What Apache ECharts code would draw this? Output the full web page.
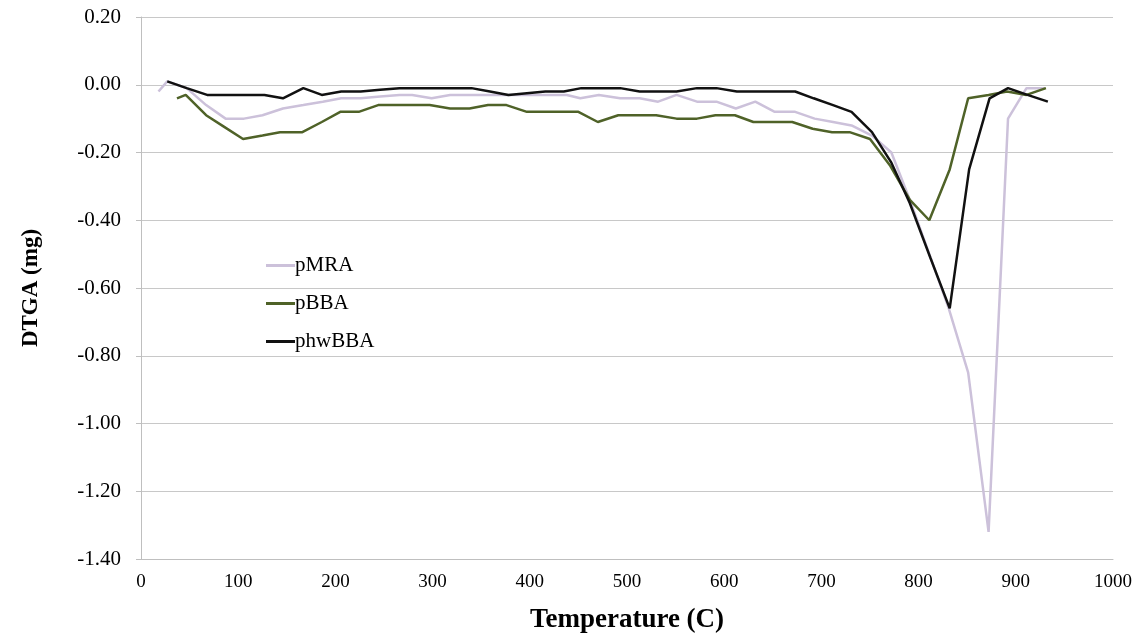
<!DOCTYPE html>
<html>
<head>
<meta charset="utf-8">
<script src="https://cdn.jsdelivr.net/npm/echarts@6/dist/echarts.min.js"></script>
<style>
html,body{margin:0;padding:0;background:#fff;}
#chart{width:1143px;height:637px;}
</style>
</head>
<body>
<div id="chart"></div>
<script>
const yTicks = ['0.20','0.00','-0.20','-0.40','-0.60','-0.80','-1.00','-1.20','-1.40'];
const xTicks = [0,100,200,300,400,500,600,700,800,900,1000];
const seriesNames = ['pMRA','pBBA','phwBBA'];

const pMRA_T = [18,27,47,67,87,106,125,146,167,187,206,226,246,266,279,299,318,338,358,378,398,418,438,452,471,493,513,532,551,572,592,612,632,652,673,693,712,731,752,772,791,811,831,851,872,892,911,930];
const pMRA_V = [-0.02,0.01,-0.01,-0.06,-0.10,-0.10,-0.09,-0.07,-0.06,-0.05,-0.04,-0.04,-0.035,-0.03,-0.03,-0.04,-0.03,-0.03,-0.03,-0.03,-0.03,-0.03,-0.03,-0.04,-0.03,-0.04,-0.04,-0.05,-0.03,-0.05,-0.05,-0.07,-0.05,-0.08,-0.08,-0.10,-0.11,-0.12,-0.15,-0.20,-0.34,-0.50,-0.66,-0.85,-1.32,-0.10,-0.01,-0.01];

const pBBA_T = [37,46,67,86,105,125,143,166,186,205,224,244,264,284,297,318,338,357,376,397,417,437,450,470,491,511,530,551,572,591,611,630,650,670,691,711,729,750,771,791,811,832,851,872,891,911,931];
const pBBA_V = [-0.04,-0.03,-0.09,-0.125,-0.16,-0.15,-0.14,-0.14,-0.11,-0.08,-0.08,-0.06,-0.06,-0.06,-0.06,-0.07,-0.07,-0.06,-0.06,-0.08,-0.08,-0.08,-0.08,-0.11,-0.09,-0.09,-0.09,-0.10,-0.10,-0.09,-0.09,-0.11,-0.11,-0.11,-0.13,-0.14,-0.14,-0.16,-0.24,-0.34,-0.40,-0.25,-0.04,-0.03,-0.02,-0.03,-0.01];

const phwBBA_T = [27,47,68,87,107,127,146,167,186,206,226,246,266,286,306,323,340,359,378,397,416,435,453,472,493,513,532,551,572,592,613,633,653,673,692,712,731,752,772,791,812,832,852,873,892,912,933];
const phwBBA_V = [0.01,-0.01,-0.03,-0.03,-0.03,-0.03,-0.04,-0.01,-0.03,-0.02,-0.02,-0.015,-0.01,-0.01,-0.01,-0.01,-0.01,-0.02,-0.03,-0.025,-0.02,-0.02,-0.01,-0.01,-0.01,-0.02,-0.02,-0.02,-0.01,-0.01,-0.02,-0.02,-0.02,-0.02,-0.04,-0.06,-0.08,-0.14,-0.23,-0.35,-0.51,-0.66,-0.25,-0.04,-0.01,-0.03,-0.05];

function pairs(t, v){ return t.map((x,i)=>[x, v[i]]); }

const colors = ['#ccc1da','#4f6228','#111111'];
const font = '"Liberation Serif","Times New Roman",serif';

const chart = echarts.init(document.getElementById('chart'), null, {renderer:'canvas'});
chart.setOption({
  animation:false,
  backgroundColor:'#fff',
  grid:{left:141, right:30, top:17, bottom:78, containLabel:false, outerBoundsMode:'none'},
  legend:{
    orient:'vertical', left:261, top:250, itemGap:17,
    itemWidth:29, itemHeight:3, icon:'rect',
    textStyle:{fontFamily:font, fontSize:21, color:'#000', padding:[0,0,0,-5]},
    data:seriesNames
  },
  xAxis:{
    type:'value', min:0, max:1000, interval:100,
    name:'Temperature (C)', nameLocation:'middle', nameGap:48,
    nameTextStyle:{fontFamily:font, fontSize:27, fontWeight:'bold', color:'#000'},
    axisLine:{show:true, onZero:false, lineStyle:{color:'#bfbfbf', width:1}},
    axisTick:{show:false},
    axisLabel:{fontFamily:font, fontSize:19, color:'#000', margin:14,
      formatter:v=>xTicks.includes(v)?String(v):''},
    splitLine:{show:false}
  },
  yAxis:{
    type:'value', min:-1.4, max:0.2, interval:0.2,
    name:'DTGA (mg)', nameLocation:'middle', nameGap:98, nameRotate:90,
    nameTextStyle:{fontFamily:font, fontSize:23, fontWeight:'bold', color:'#000'},
    axisLine:{show:true, lineStyle:{color:'#bfbfbf', width:1}},
    axisTick:{show:true, length:5, lineStyle:{color:'#bfbfbf'}},
    axisLabel:{fontFamily:font, fontSize:21, color:'#000', margin:20,
      formatter:v=>{ const s=v.toFixed(2); return s==='-0.00'?'0.00':s; }},
    splitLine:{show:true, lineStyle:{color:'#c8c8c8', width:1}}
  },
  series:[
    {name:seriesNames[0], type:'line', data:pairs(pMRA_T,pMRA_V), showSymbol:false, symbol:'none',
      lineStyle:{color:colors[0], width:2.5}, itemStyle:{color:colors[0]}, z:2},
    {name:seriesNames[1], type:'line', data:pairs(pBBA_T,pBBA_V), showSymbol:false, symbol:'none',
      lineStyle:{color:colors[1], width:2.5}, itemStyle:{color:colors[1]}, z:3},
    {name:seriesNames[2], type:'line', data:pairs(phwBBA_T,phwBBA_V), showSymbol:false, symbol:'none',
      lineStyle:{color:colors[2], width:2.5}, itemStyle:{color:colors[2]}, z:4}
  ]
});
</script>
</body>
</html>
